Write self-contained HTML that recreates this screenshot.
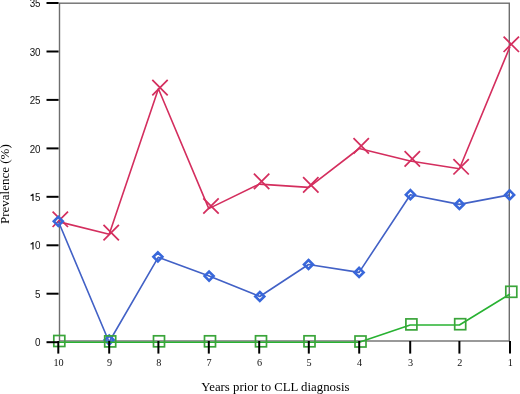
<!DOCTYPE html>
<html><head><meta charset="utf-8"><style>
html,body{margin:0;padding:0;background:#fff;}
body{width:520px;height:394px;overflow:hidden;font-family:"Liberation Sans",sans-serif;}
svg{display:block;will-change:transform;filter:blur(0.3px);}
</style></head><body>
<svg width="520" height="394" viewBox="0 0 520 394">
<rect width="520" height="394" fill="#fff"/>
<rect x="59.5" y="3.2" width="449.8" height="337.8" fill="none" stroke="#6e6e6e" stroke-width="1.4"/>
<text transform="translate(40.6,346.40) scale(0.93,1)" text-anchor="end" font-family="Liberation Sans, sans-serif" font-size="10.6" fill="#111">0</text>
<text transform="translate(40.6,297.94) scale(0.93,1)" text-anchor="end" font-family="Liberation Sans, sans-serif" font-size="10.6" fill="#111">5</text>
<path d="M33.00 249.49 V242.09 M33.30 242.29 Q32.40 243.79 30.60 244.09" stroke="#111" stroke-width="1.15" fill="none"/>
<text transform="translate(40.6,249.49) scale(0.93,1)" text-anchor="end" font-family="Liberation Sans, sans-serif" font-size="10.6" fill="#111">0</text>
<path d="M33.00 201.03 V193.63 M33.30 193.83 Q32.40 195.33 30.60 195.63" stroke="#111" stroke-width="1.15" fill="none"/>
<text transform="translate(40.6,201.03) scale(0.93,1)" text-anchor="end" font-family="Liberation Sans, sans-serif" font-size="10.6" fill="#111">5</text>
<text transform="translate(40.6,152.57) scale(0.93,1)" text-anchor="end" font-family="Liberation Sans, sans-serif" font-size="10.6" fill="#111">20</text>
<text transform="translate(40.6,104.11) scale(0.93,1)" text-anchor="end" font-family="Liberation Sans, sans-serif" font-size="10.6" fill="#111">25</text>
<text transform="translate(40.6,55.66) scale(0.93,1)" text-anchor="end" font-family="Liberation Sans, sans-serif" font-size="10.6" fill="#111">30</text>
<text transform="translate(40.6,7.20) scale(0.93,1)" text-anchor="end" font-family="Liberation Sans, sans-serif" font-size="10.6" fill="#111">35</text>
<text transform="translate(58.60,365.8) scale(0.93,1)" text-anchor="middle" font-family="Liberation Serif, serif" font-size="11" fill="#111">10</text>
<text transform="translate(109.50,365.8) scale(0.93,1)" text-anchor="middle" font-family="Liberation Serif, serif" font-size="11" fill="#111">9</text>
<text transform="translate(158.70,365.8) scale(0.93,1)" text-anchor="middle" font-family="Liberation Serif, serif" font-size="11" fill="#111">8</text>
<text transform="translate(209.10,365.8) scale(0.93,1)" text-anchor="middle" font-family="Liberation Serif, serif" font-size="11" fill="#111">7</text>
<text transform="translate(259.50,365.8) scale(0.93,1)" text-anchor="middle" font-family="Liberation Serif, serif" font-size="11" fill="#111">6</text>
<text transform="translate(309.10,365.8) scale(0.93,1)" text-anchor="middle" font-family="Liberation Serif, serif" font-size="11" fill="#111">5</text>
<text transform="translate(359.50,365.8) scale(0.93,1)" text-anchor="middle" font-family="Liberation Serif, serif" font-size="11" fill="#111">4</text>
<text transform="translate(410.50,365.8) scale(0.93,1)" text-anchor="middle" font-family="Liberation Serif, serif" font-size="11" fill="#111">3</text>
<text transform="translate(459.70,365.8) scale(0.93,1)" text-anchor="middle" font-family="Liberation Serif, serif" font-size="11" fill="#111">2</text>
<text transform="translate(510.30,365.8) scale(0.93,1)" text-anchor="middle" font-family="Liberation Serif, serif" font-size="11" fill="#111">1</text>
<text transform="translate(201.3,391.0) scale(0.955,1)" font-family="Liberation Serif, serif" font-size="13.4" fill="#000">Years prior to CLL diagnosis</text>
<text transform="translate(8.9,224.0) rotate(-90) scale(1,0.96)" font-family="Liberation Serif, serif" font-size="13" fill="#000">Prevalence (%)</text>
<polyline points="58.3,221.6 109.2,234.2 158.4,88.8 208.8,208.6 259.2,184.1 308.8,187.4 359.2,148.5 410.2,161.0 459.4,168.8 510.0,46.6" fill="none" stroke="#d42e5e" stroke-width="1.6" stroke-linejoin="round"/>
<path d="M52.6 211.6 L68.0 227.0 M68.0 211.6 L52.6 227.0" stroke="#d42e5e" stroke-width="1.75" fill="none"/>
<path d="M103.5 224.9 L118.9 240.3 M118.9 224.9 L103.5 240.3" stroke="#d42e5e" stroke-width="1.75" fill="none"/>
<path d="M152.3 79.9 L167.7 95.3 M167.7 79.9 L152.3 95.3" stroke="#d42e5e" stroke-width="1.75" fill="none"/>
<path d="M203.3 198.3 L218.7 213.7 M218.7 198.3 L203.3 213.7" stroke="#d42e5e" stroke-width="1.75" fill="none"/>
<path d="M253.9 173.7 L269.3 189.1 M269.3 173.7 L253.9 189.1" stroke="#d42e5e" stroke-width="1.75" fill="none"/>
<path d="M303.1 177.2 L318.5 192.6 M318.5 177.2 L303.1 192.6" stroke="#d42e5e" stroke-width="1.75" fill="none"/>
<path d="M353.5 138.2 L368.9 153.6 M368.9 138.2 L353.5 153.6" stroke="#d42e5e" stroke-width="1.75" fill="none"/>
<path d="M404.6 151.2 L420.0 166.6 M420.0 151.2 L404.6 166.6" stroke="#d42e5e" stroke-width="1.75" fill="none"/>
<path d="M453.4 159.1 L468.8 174.5 M468.8 159.1 L453.4 174.5" stroke="#d42e5e" stroke-width="1.75" fill="none"/>
<path d="M503.6 36.6 L519.0 52.0 M519.0 36.6 L503.6 52.0" stroke="#d42e5e" stroke-width="1.75" fill="none"/>
<polyline points="58.3,221.3 109.1,342.0 158.2,257.3 209.1,276.1 259.8,296.5 308.5,264.5 359.1,272.4 410.4,194.7 459.4,204.4 509.6,194.9" fill="none" stroke="#4261c6" stroke-width="1.6" stroke-linejoin="round"/>
<path d="M58.3 216.8 L62.8 221.3 L58.3 225.8 L53.8 221.3Z" fill="none" stroke="#3867da" stroke-width="2.6"/>
<path d="M109.2 335.5 L113.7 340.0 L109.2 344.5 L104.7 340.0Z" fill="none" stroke="#3867da" stroke-width="2.6"/>
<path d="M157.9 252.3 L162.4 256.8 L157.9 261.3 L153.4 256.8Z" fill="none" stroke="#3867da" stroke-width="2.6"/>
<path d="M209.1 271.6 L213.6 276.1 L209.1 280.6 L204.6 276.1Z" fill="none" stroke="#3867da" stroke-width="2.6"/>
<path d="M259.8 292.0 L264.3 296.5 L259.8 301.0 L255.3 296.5Z" fill="none" stroke="#3867da" stroke-width="2.6"/>
<path d="M308.5 260.0 L313.0 264.5 L308.5 269.0 L304.0 264.5Z" fill="none" stroke="#3867da" stroke-width="2.6"/>
<path d="M359.1 267.9 L363.6 272.4 L359.1 276.9 L354.6 272.4Z" fill="none" stroke="#3867da" stroke-width="2.6"/>
<path d="M410.4 190.2 L414.9 194.7 L410.4 199.2 L405.9 194.7Z" fill="none" stroke="#3867da" stroke-width="2.6"/>
<path d="M459.4 199.9 L463.9 204.4 L459.4 208.9 L454.9 204.4Z" fill="none" stroke="#3867da" stroke-width="2.6"/>
<path d="M509.6 190.4 L514.1 194.9 L509.6 199.4 L505.1 194.9Z" fill="none" stroke="#3867da" stroke-width="2.6"/>
<polyline points="58.3,342.3 109.2,342.3 158.4,342.3 208.8,342.3 259.2,342.3 308.8,342.3 359.2,342.3 410.2,325.0 459.4,325.0 510.0,294.0" fill="none" stroke="#28b232" stroke-width="1.6" stroke-linejoin="round"/>
<rect x="53.8" y="335.5" width="11.0" height="11.0" fill="none" stroke="#3aa53a" stroke-width="1.7"/>
<rect x="104.7" y="335.9" width="11.0" height="11.0" fill="none" stroke="#3aa53a" stroke-width="1.7"/>
<rect x="153.5" y="335.8" width="11.0" height="11.0" fill="none" stroke="#3aa53a" stroke-width="1.7"/>
<rect x="204.5" y="335.8" width="11.0" height="11.0" fill="none" stroke="#3aa53a" stroke-width="1.7"/>
<rect x="255.5" y="335.8" width="11.0" height="11.0" fill="none" stroke="#3aa53a" stroke-width="1.7"/>
<rect x="304.0" y="335.8" width="11.0" height="11.0" fill="none" stroke="#3aa53a" stroke-width="1.7"/>
<rect x="355.0" y="336.0" width="11.0" height="11.0" fill="none" stroke="#3aa53a" stroke-width="1.7"/>
<rect x="405.9" y="318.9" width="11.0" height="11.0" fill="none" stroke="#3aa53a" stroke-width="1.7"/>
<rect x="454.7" y="318.7" width="11.0" height="11.0" fill="none" stroke="#3aa53a" stroke-width="1.7"/>
<rect x="505.8" y="286.3" width="11.0" height="11.0" fill="none" stroke="#3aa53a" stroke-width="1.7"/>
<line x1="46.5" y1="342.2" x2="58.6" y2="342.2" stroke="#000" stroke-width="2"/>
<line x1="46.5" y1="293.7" x2="58.6" y2="293.7" stroke="#000" stroke-width="2"/>
<line x1="46.5" y1="245.3" x2="58.6" y2="245.3" stroke="#000" stroke-width="2"/>
<line x1="46.5" y1="196.8" x2="58.6" y2="196.8" stroke="#000" stroke-width="2"/>
<line x1="46.5" y1="148.4" x2="58.6" y2="148.4" stroke="#000" stroke-width="2"/>
<line x1="46.5" y1="99.9" x2="58.6" y2="99.9" stroke="#000" stroke-width="2"/>
<line x1="46.5" y1="51.5" x2="58.6" y2="51.5" stroke="#000" stroke-width="2"/>
<line x1="46.5" y1="3.0" x2="58.6" y2="3.0" stroke="#000" stroke-width="2"/>
<line x1="58.3" y1="341" x2="58.3" y2="353.6" stroke="#000" stroke-width="2"/>
<line x1="109.2" y1="341" x2="109.2" y2="353.6" stroke="#000" stroke-width="2"/>
<line x1="158.4" y1="341" x2="158.4" y2="353.6" stroke="#000" stroke-width="2"/>
<line x1="208.8" y1="341" x2="208.8" y2="353.6" stroke="#000" stroke-width="2"/>
<line x1="259.2" y1="341" x2="259.2" y2="353.6" stroke="#000" stroke-width="2"/>
<line x1="308.8" y1="341" x2="308.8" y2="353.6" stroke="#000" stroke-width="2"/>
<line x1="359.2" y1="341" x2="359.2" y2="353.6" stroke="#000" stroke-width="2"/>
<line x1="410.2" y1="341" x2="410.2" y2="353.6" stroke="#000" stroke-width="2"/>
<line x1="459.4" y1="341" x2="459.4" y2="353.6" stroke="#000" stroke-width="2"/>
<line x1="510.0" y1="341" x2="510.0" y2="353.6" stroke="#000" stroke-width="2"/>
</svg>
</body></html>
